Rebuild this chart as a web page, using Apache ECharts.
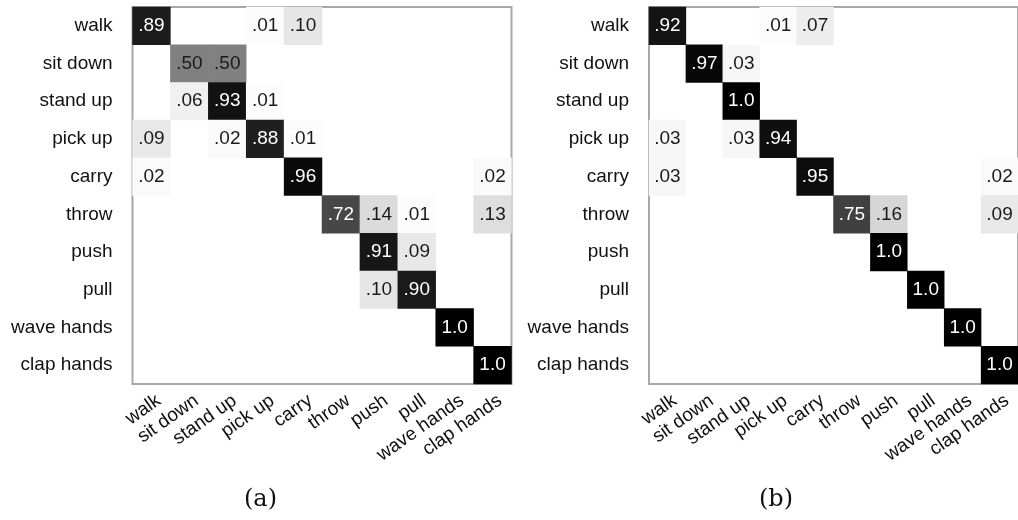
<!DOCTYPE html>
<html>
<head>
<meta charset="utf-8">
<script src="https://cdn.jsdelivr.net/npm/echarts@6/dist/echarts.min.js"></script>
<style>
html,body{margin:0;padding:0;background:#fff;}
#chart{width:1018px;height:520px;}
</style>
</head>
<body>
<div id="chart"></div>
<script>
const categories = ['walk','sit down','stand up','pick up','carry','throw','push','pull','wave hands','clap hands'];
// rows = actual class, columns = predicted class
const matrixA = [
  [0.89,0,0,0.01,0.10,0,0,0,0,0],
  [0,0.50,0.50,0,0,0,0,0,0,0],
  [0,0.06,0.93,0.01,0,0,0,0,0,0],
  [0.09,0,0.02,0.88,0.01,0,0,0,0,0],
  [0.02,0,0,0,0.96,0,0,0,0,0.02],
  [0,0,0,0,0,0.72,0.14,0.01,0,0.13],
  [0,0,0,0,0,0,0.91,0.09,0,0],
  [0,0,0,0,0,0,0.10,0.90,0,0],
  [0,0,0,0,0,0,0,0,1.0,0],
  [0,0,0,0,0,0,0,0,0,1.0]
];
const matrixB = [
  [0.92,0,0,0.01,0.07,0,0,0,0,0],
  [0,0.97,0.03,0,0,0,0,0,0,0],
  [0,0,1.0,0,0,0,0,0,0,0],
  [0.03,0,0.03,0.94,0,0,0,0,0,0],
  [0.03,0,0,0,0.95,0,0,0,0,0.02],
  [0,0,0,0,0,0.75,0.16,0,0,0.09],
  [0,0,0,0,0,0,1.0,0,0,0],
  [0,0,0,0,0,0,0,1.0,0,0],
  [0,0,0,0,0,0,0,0,1.0,0],
  [0,0,0,0,0,0,0,0,0,1.0]
];
const panelLabels = ['(a)','(b)'];

function toData(m){
  const out = [];
  m.forEach((row, r) => row.forEach((v, c) => {
    if (v > 0) out.push({value:[c, r, v], label:{color: v > 0.6 ? '#ffffff' : '#1a1a1a'}});
  }));
  return out;
}
function fmt(v){
  return v >= 1 ? '1.0' : v.toFixed(2).replace(/^0/, '');
}
const font = 'Liberation Sans, Arial, sans-serif';
const grids = [
  {left:132.5, top:7, width:379, height:377},
  {left:649, top:7, width:378, height:377}
];
const chart = echarts.init(document.getElementById('chart'));
const xAxes = [], yAxes = [], series = [];
[matrixA, matrixB].forEach((m, i) => {
  xAxes.push({type:'category', gridIndex:i, data:categories,
    axisLine:{show:false}, axisTick:{show:false}, splitLine:{show:false},
    axisLabel:{interval:0, rotate:35, margin:20, padding:[0,-9,0,0], fontSize:19, color:'#111', fontFamily:font}});
  yAxes.push({type:'category', gridIndex:i, data:categories, inverse:true,
    axisLine:{show:false}, axisTick:{show:false}, splitLine:{show:false},
    axisLabel:{interval:0, margin:20, fontSize:19, color:'#111', fontFamily:font}});
  series.push({type:'heatmap', xAxisIndex:i, yAxisIndex:i, data:toData(m),
    label:{show:true, fontSize:19, fontFamily:font, formatter:p => fmt(p.value[2])},
    emphasis:{disabled:true}, itemStyle:{borderWidth:0}});
});
chart.setOption({
  animation:false,
  backgroundColor:'#fff',
  grid: grids.map(g => Object.assign({show:true, borderColor:'#a8a8a8', borderWidth:2, backgroundColor:'#fff'}, g)),
  xAxis: xAxes,
  yAxis: yAxes,
  visualMap:{show:false, type:'continuous', min:0, max:1, seriesIndex:[0,1], inRange:{color:['#ffffff','#000000']}},
  title: [
    {text:panelLabels[0], left:244, top:488, padding:0, textStyle:{fontFamily:'DejaVu Serif, serif', fontWeight:'normal', fontSize:24, color:'#111'}},
    {text:panelLabels[1], left:759, top:488, padding:0, textStyle:{fontFamily:'DejaVu Serif, serif', fontWeight:'normal', fontSize:24, color:'#111'}}
  ],
  series: series
});
</script>
</body>
</html>
